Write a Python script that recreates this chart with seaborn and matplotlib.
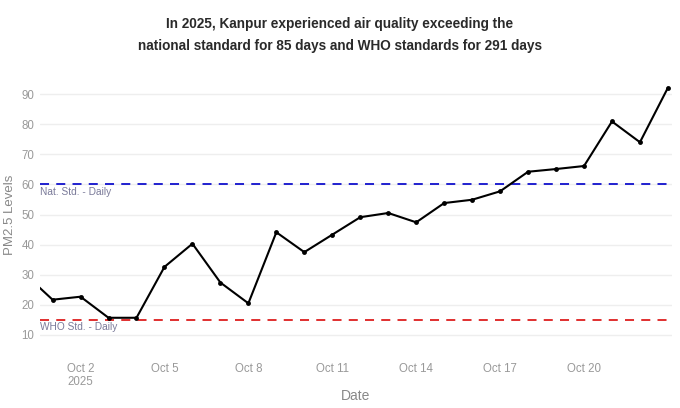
import pandas as pd
import matplotlib
matplotlib.use("Agg")
import matplotlib.pyplot as plt
import seaborn as sns

# Daily PM2.5 readings, Kanpur, Sep 30 - Oct 23 2025
dates = pd.date_range("2025-09-30", "2025-10-23", freq="D")
pm25 = [30.3, 21.7, 22.7, 15.7, 15.7, 32.6, 40.3, 27.4, 20.5, 44.1, 37.5, 43.3,
        49.1, 50.5, 47.4, 53.8, 54.9, 57.7, 64.2, 65.1, 66.1, 80.9, 74.0, 92.1]

nat_std = 60
who_std = 15

title = ("In 2025, Kanpur experienced air quality exceeding the\n"
         "national standard for 85 days and WHO standards for 291 days")

df = pd.DataFrame({"Date": dates, "PM2.5": pm25})

sns.set_style("white")
plt.rcParams["font.family"] = ["Liberation Sans", "DejaVu Sans"]

fig = plt.figure(figsize=(6.8, 4.08), dpi=100)
ax = fig.add_axes([40 / 680, 58 / 408, 632 / 680, 271 / 408])

sns.lineplot(x="Date", y="PM2.5", data=df, ax=ax, color="black", linewidth=1.5,
             marker="o", markersize=3.5, markeredgewidth=0)

ax.axhline(nat_std, color="#1010cc", linestyle=(0, (5, 4)), linewidth=1.3, zorder=1)
ax.axhline(who_std, color="#dd1f1f", linestyle=(0, (5, 4)), linewidth=1.3, zorder=1)

left = pd.Timestamp("2025-10-01") - pd.Timedelta(hours=10.8)
right = pd.Timestamp("2025-10-23") + pd.Timedelta(hours=3.5)
ax.set_xlim(left, right)
ax.set_ylim(5, 95)

ax.text(left, nat_std - 0.8, "Nat. Std. - Daily", fontsize=7.3, color="#7a7a99",
        va="top", ha="left", bbox=dict(facecolor="white", alpha=0.55, edgecolor="none", pad=0.5))
ax.text(left, who_std - 0.8, "WHO Std. - Daily", fontsize=7.3, color="#7a7a99",
        va="top", ha="left", bbox=dict(facecolor="white", alpha=0.55, edgecolor="none", pad=0.5))

ax.set_yticks(range(10, 100, 10))
ax.yaxis.grid(True, color="#eeeeee", linewidth=1)
ax.xaxis.grid(False)

tick_dates = dates[2:23:3]
ax.set_xticks(tick_dates)
labels = [d.strftime("%b ") + str(d.day) for d in tick_dates]
labels[0] = labels[0] + "\n2025"
ax.set_xticklabels(labels)
ax.tick_params(axis="both", labelsize=8.3, colors="#999999", length=0)
ax.tick_params(axis="x", pad=9)
ax.tick_params(axis="y", pad=4)

for s in ax.spines.values():
    s.set_visible(False)

ax.set_xlabel("Date", fontsize=10, color="#888888")
ax.xaxis.set_label_coords(0.5, -0.145)
ax.set_ylabel("PM2.5 Levels", fontsize=9.5, color="#888888", labelpad=4)

fig.suptitle(title, fontsize=9.8, fontweight="bold", color="#2a2a2a", y=0.958, linespacing=1.75)

fig.savefig("out.png", dpi=100)
